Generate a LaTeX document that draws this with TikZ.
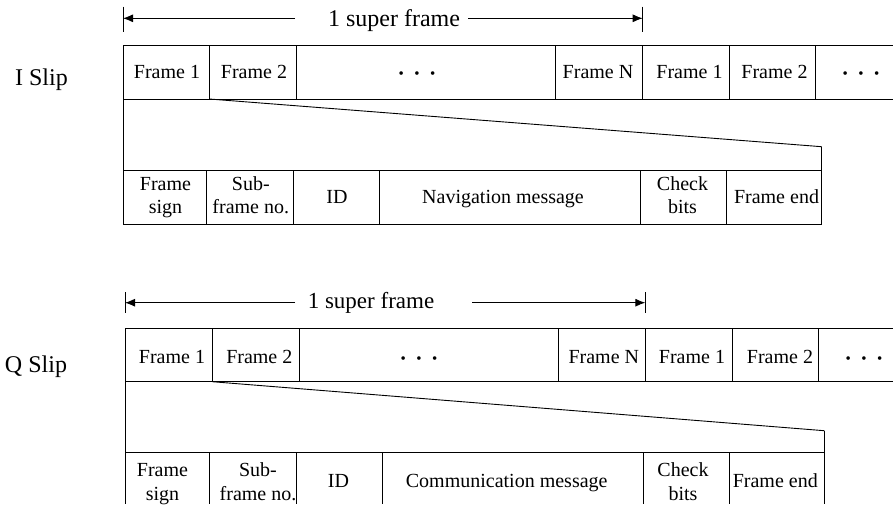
\documentclass[tikz,border=0pt]{standalone}
\usepackage{fontspec}
\setmainfont{Liberation Serif}
\usetikzlibrary{arrows.meta}
\newcommand{\mydot}{{\fontsize{15}{15}\selectfont\raisebox{0.3pt}{•}}}
\newcommand{\mydots}{\mydot\hspace{10.5pt}\mydot\hspace{10.5pt}\mydot}
\begin{document}
\begin{tikzpicture}[x=1pt,y=-1pt,
  ln/.style={line width=0.9pt, black},
  arr/.style={ln,-{Latex[length=10pt,width=8pt]}},
  lab/.style={font=\fontsize{20}{23.3}\selectfont, inner sep=0pt, anchor=base},
  labtwo/.style={font=\fontsize{20}{23.3}\selectfont, inner sep=0pt, align=center, anchor=center},
  big/.style={font=\fontsize{24}{28}\selectfont, inner sep=0pt, anchor=base},
  bigq/.style={font=\fontsize{23}{27}\selectfont, inner sep=0pt, anchor=base}]
\useasboundingbox (0,0) rectangle (893,504);

% ================= I Slip =================
\node[big] (islip) at (41.5,85) {I Slip};
\node[big] (sfI) at (394,26) {1 super frame};
\coordinate (tLI) at (123,18.3);
\coordinate (tRI) at (642.7,18.3);
\coordinate (aLI) at (295,18.3);
\coordinate (aRI) at (468,18.3);
\draw[ln] (123,6.7) -- (123,31.7);
\draw[ln] (642.7,6.7) -- (642.7,31.7);
\draw[arr] (aLI) -- (tLI);
\draw[arr] (aRI) -- (tRI);

% frame row
\draw[ln] (123,45) -- (893,45);
\draw[ln] (123,99) -- (893,99);
\draw[ln] (123,45) -- (123,224);
\foreach \x in {209.3,296,555.7,642.7,729.3,815.7} \draw[ln] (\x,45) -- (\x,99);
\node[lab] (i1) at (167,78.3) {Frame 1};
\node[lab] (i2) at (254,78.3) {Frame 2};
\node[lab] (i3) at (417,78.3) {\mydots};
\node[lab] (i4) at (598,78.3) {Frame N};
\node[lab] (i5) at (689.5,78.3) {Frame 1};
\node[lab] (i6) at (774.5,78.3) {Frame 2};
\node[lab] (i7) at (861,78.3) {\mydots};

% expansion
\coordinate (sI) at (209.3,99);
\coordinate (eI) at (821.7,146.7);
\draw[ln] (sI) -- (eI);
\draw[ln] (eI) -- (821.7,224);

% subframe row
\draw[ln] (123,170.7) -- (821.7,170.7);
\draw[ln] (123,224) -- (821.7,224);
\foreach \x in {206.7,293.3,379.3,640,726.7} \draw[ln] (\x,170.7) -- (\x,224);
\node[labtwo] (j1) at (165.5,197.3) {\strut Frame\\\strut sign};
\node[labtwo] (j2) at (250.8,197.3) {\strut Sub-\\\strut frame no.};
\node[lab] (j3) at (337,203.3) {ID};
\node[lab] (j4) at (503,203.3) {Navigation message};
\node[labtwo] (j5) at (682.5,197.3) {\strut Check\\\strut bits};
\node[lab] (j6) at (776.5,203.3) {Frame end};

% ================= Q Slip =================
\node[big] (qslip) at (36,372) {Q Slip};
\node[bigq] (sfQ) at (371,308.3) {1 super frame};
\coordinate (tLQ) at (125,302.7);
\coordinate (tRQ) at (645.3,302.7);
\coordinate (aLQ) at (295,302.7);
\coordinate (aRQ) at (472,302.7);
\draw[ln] (125,292) -- (125,313);
\draw[ln] (645.3,292) -- (645.3,313);
\draw[arr] (aLQ) -- (tLQ);
\draw[arr] (aRQ) -- (tRQ);

\draw[ln] (125,328.3) -- (893,328.3);
\draw[ln] (125,381.7) -- (893,381.7);
\draw[ln] (125,328.3) -- (125,504);
\foreach \x in {212.3,299,558.7,645.3,732.3,818.7} \draw[ln] (\x,328.3) -- (\x,381.7);
\node[lab] (q1) at (172,363.3) {Frame 1};
\node[lab] (q2) at (259.3,363.3) {Frame 2};
\node[lab] (q3) at (419,363.3) {\mydots};
\node[lab] (q4) at (603.8,363.3) {Frame N};
\node[lab] (q5) at (692,363.3) {Frame 1};
\node[lab] (q6) at (780,363.3) {Frame 2};
\node[lab] (q7) at (864,363.3) {\mydots};

\coordinate (sQ) at (212.3,381.7);
\coordinate (eQ) at (824.3,430.7);
\draw[ln] (sQ) -- (eQ);
\draw[ln] (eQ) -- (824.3,504);

\draw[ln] (125,452.7) -- (824.3,452.7);
\foreach \x in {209.3,296,382.7,643.3,729.3} \draw[ln] (\x,452.7) -- (\x,504);
\node[labtwo] (r1) at (162.5,483.7) {\strut Frame\\\strut sign};
\node[labtwo] (r2) at (258,483.7) {\strut Sub-\\\strut frame no.};
\node[lab] (r3) at (338.5,487) {ID};
\node[lab] (r4) at (506.7,487) {Communication message};
\node[labtwo] (r5) at (683,483.7) {\strut Check\\\strut bits};
\node[lab] (r6) at (775.3,487) {Frame end};
\end{tikzpicture}
\end{document}
